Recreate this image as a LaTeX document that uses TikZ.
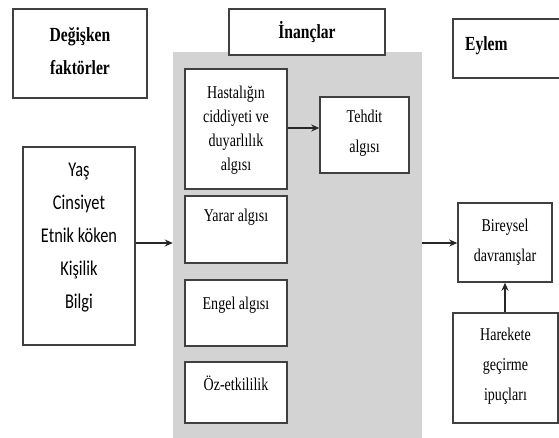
\documentclass[tikz,border=0pt]{standalone}
\usepackage{fontspec}
\setmainfont[FakeStretch=0.78]{Liberation Serif}
\newfontfamily\tms[FakeStretch=0.78]{Liberation Serif}
\newfontfamily\calib[FakeStretch=0.78]{Carlito}
\usetikzlibrary{arrows.meta}
\definecolor{bg}{HTML}{D3D3D3}
\definecolor{edge}{HTML}{404040}
\begin{document}
\begin{tikzpicture}[x=1pt,y=-1pt,
  box/.style={draw=edge, line width=1.5pt, fill=white, rectangle, inner sep=0pt},
  txt/.style={align=center, inner sep=0pt, font=\tms\fontsize{18}{24}\selectfont},
  txtw/.style={align=center, inner sep=0pt, font=\tms\fontsize{18}{30}\selectfont},
  head/.style={align=center, inner sep=0pt, font=\tms\fontsize{20}{33}\selectfont\bfseries},
  arr/.style={-{Stealth[length=8pt,width=7pt]}, line width=2pt, draw=black!85}]
\useasboundingbox (0,0) rectangle (559,438);
\clip (0,0) rectangle (559,438);
% background panel
\node[fill=bg, inner sep=0pt, minimum width=249pt, minimum height=386pt] (gray) at (297.5,245) {};
% headers
\node[box, minimum width=134pt, minimum height=89pt] (dfbox) at (80,53.5) {};
\node[head] (df) at (80,51.5) {Değişken\\faktörler};
\node[box, minimum width=156pt, minimum height=46pt] (inbox) at (307,32) {};
\node[head] (in) at (307,32) {İnançlar};
\node[box, minimum width=120pt, minimum height=59pt] (eybox) at (513,48.5) {};
\node[head, anchor=west] (ey) at (465,46) {Eylem};
% modifying factors
\node[box, minimum width=112pt, minimum height=198pt] (yas) at (79,246) {};
\node[align=center, inner sep=0pt, font=\calib\fontsize{21}{33}\selectfont] (yastxt) at (79,238) {Yaş\\Cinsiyet\\Etnik köken\\Kişilik\\Bilgi};
% beliefs
\node[box, minimum width=102pt, minimum height=120pt] (hast) at (236,129) {};
\node[txt] (hasttxt) at (236,130) {Hastalığın\\ciddiyeti ve\\duyarlılık\\algısı};
\node[box, minimum width=89pt, minimum height=76pt] (teh) at (364.5,135) {};
\node[txtw] (tehtxt) at (364.5,133) {Tehdit\\algısı};
\node[box, minimum width=102pt, minimum height=67pt] (yar) at (236,229.5) {};
\node[txt] (yartxt) at (236,217) {Yarar algısı};
\node[box, minimum width=102pt, minimum height=66pt] (eng) at (236,313) {};
\node[txt] (engtxt) at (236,305) {Engel algısı};
\node[box, minimum width=102pt, minimum height=61pt] (oz) at (236,392.5) {};
\node[txt] (oztxt) at (236,383) {Öz-etkililik};
% action
\node[box, minimum width=94pt, minimum height=79pt] (bir) at (505,242.5) {};
\node[txtw] (birtxt) at (505,242) {Bireysel\\davranışlar};
\node[box, minimum width=105pt, minimum height=110pt] (har) at (505.5,368) {};
\node[txtw] (hartxt) at (505.5,366) {Harekete\\geçirme\\ipuçları};
% connectors
\draw[arr] (hast.east |- 0,128) -- (teh.west |- 0,128);
\draw[arr] (yas.east |- 0,243) -- (gray.west |- 0,243);
\draw[arr] (gray.east |- 0,243) -- (bir.west |- 0,243);
\draw[arr] (har.north -| bir.south) -- (bir.south);
\end{tikzpicture}
\end{document}
